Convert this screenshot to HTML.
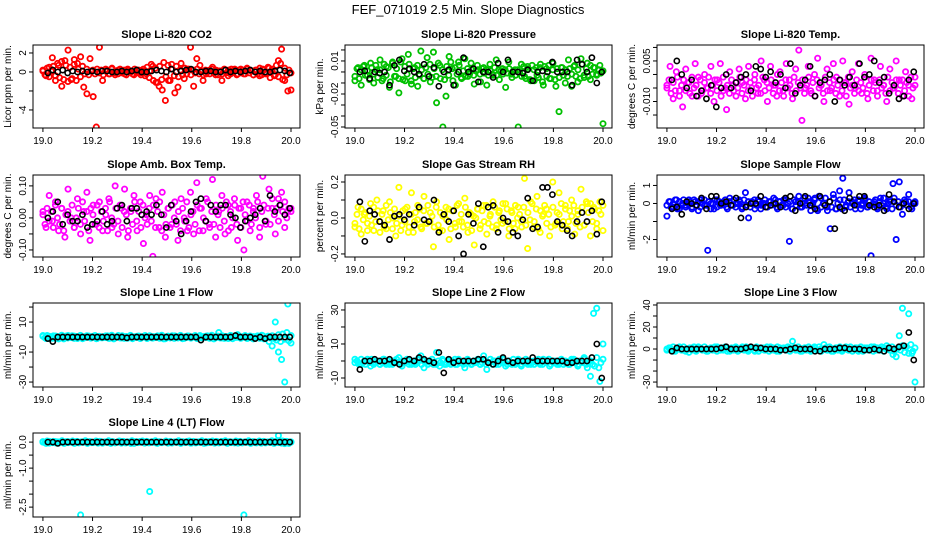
<!DOCTYPE html>
<html><head><meta charset="utf-8"><style>
html,body{margin:0;padding:0;background:#fff;}
svg{display:block;font-family:"Liberation Sans",Arial,sans-serif;}
</style></head><body>
<svg id="chart" width="936" height="540" viewBox="0 0 936 540" xmlns="http://www.w3.org/2000/svg">
<rect width="936" height="540" fill="#fff"/>
<text x="468" y="14" text-anchor="middle" font-size="13">FEF_071019  2.5 Min. Slope Diagnostics</text>
</svg>
<script>
// ---- data ----
const xTickValues = [19.0, 19.2, 19.4, 19.6, 19.8, 20.0];
const xTickLabels = ["19.0", "19.2", "19.4", "19.6", "19.8", "20.0"];
const timeStart = 19.0, timeEnd = 20.0;

const panelTitles = ["Slope Li-820 CO2","Slope Li-820 Pressure","Slope Li-820 Temp.","Slope Amb. Box Temp.","Slope Gas Stream RH","Slope Sample Flow","Slope Line 1 Flow","Slope Line 2 Flow","Slope Line 3 Flow","Slope Line 4 (LT) Flow"];
const yAxisTitles = ["Licor ppm per min.","kPa per min.","degrees C per min.","degrees C per min.","percent per min.","ml/min per min.","ml/min per min.","ml/min per min.","ml/min per min.","ml/min per min."];
const seriesColors = ["#ff0000","#00c000","#ff00ff","#ff00ff","#ffff00","#0000ff","#00ffff","#00ffff","#00ffff","#00ffff"];
const yDomains = [[-5.9,2.84],[-0.0509,0.0245],[-0.0198,0.0109],[-0.122,0.134],[-0.217,0.239],[-2.97,1.58],[-33.3,22.7],[-15.3,34.1],[-34.5,41.8],[-2.88,0.35]];
const yTicks = [[-4,-2,0,2],[-0.05,-0.04,-0.03,-0.02,-0.01,0,0.01,0.02],[-0.015,-0.01,-0.005,0,0.005,0.01],[-0.1,-0.05,0,0.05,0.1],[-0.2,-0.1,0,0.1,0.2],[-2,-1,0,1],[-30,-20,-10,0,10,20],[-10,0,10,20,30],[-30,-20,-10,0,10,20,30,40],[-2.5,-2,-1.5,-1,-0.5,0]];
const yTickLabels = [{"2":"2","0":"0","-4":"-4"},{"0.01":"0.01","-0.02":"-0.02","-0.05":"-0.05"},{"0.005":"0.005","-0.01":"-0.010"},{"0.1":"0.10","0":"0.00","-0.1":"-0.10"},{"0.2":"0.2","0":"0.0","-0.2":"-0.2"},{"1":"1","0":"0","-2":"-2"},{"10":"10","-10":"-10","-30":"-30"},{"30":"30","10":"10","-10":"-10"},{"40":"40","20":"20","0":"0","-30":"-30"},{"0":"0.0","-1":"-1.0","-2.5":"-2.5"}];

const co2Color = [0.1,-0.4,0.5,1.5,-0.9,0.7,-1.5,1.2,2.3,-0.8,1.3,0.9,1.6,-1.6,-2.3,1.4,-2.6,-5.8,2.6,-0.9,0.3,-0.2,0.4,-0.3,0.2,0.1,-0.2,0.3,0.0,-0.3,0.2,-0.1,0.3,-0.2,0.1,0.6,-1.1,-1.5,-1.9,-3.0,-0.9,0.8,-2.2,-1.6,0.9,-0.7,0.3,2.6,-1.5,1.4,0.7,-0.9,-0.2,0.2,0.5,-0.3,0.1,-0.9,0.2,-0.4,0.3,0.2,-0.2,0.3,-0.2,0.4,0.2,-0.3,0.2,-0.4,0.3,-0.2,0.4,0.1,-0.3,1.2,2.4,-0.9,-2.0,-1.9];
const co2Band = [0.2,-0.3,0.4,-0.5,0.1,0.6,-0.4,0.9,-0.6,1.1,-0.8,0.7,-1.0,0.5,-0.7,0.8,-0.9,0.3,-0.5,0.6,-0.2,0.3,-0.3,0.1,0.2,-0.2,0.3,-0.1,0.2,-0.3,0.1,0.2,-0.2,0.3,-0.1,0.1,-0.2,0.3,-0.1,0.2,-0.3,0.2,0.1,-0.2,0.3,-0.1,0.2,-0.3,0.1,-0.4,0.5,-0.6,0.8,-0.9,0.4,-1.1,0.6,-0.8,1.0,-0.5,0.7,-0.9,0.3,-0.4,0.6,-0.5,0.2,-0.3,0.4,-0.2,0.3,-0.3,0.2,-0.1,0.3,-0.2,0.1,-0.3,0.2,0.1,-0.2,0.3,-0.1,0.2,-0.3,0.1,-0.2,0.3,-0.1,0.2,-0.2,0.1,0.3,-0.3,0.2,-0.1,0.2,-0.2,0.3,-0.1,0.1,-0.3,0.2,-0.2,0.4,-0.3,0.2,-0.1,0.5,-0.6,0.3,-0.4,0.7,-0.5,0.9,-0.8,0.4,-0.3,0.2,-0.1];
const co2Black = [-0.1,0.2,0.0,0.2,-0.1,0.1,0.0,0.1,0.0,0.1,0.0,0.1,0.1,0.0,0.0,0.1,0.0,0.1,0.2,0.0,0.0,0.1,0.2,0.1,0.0,0.3,0.0,0.1,0.2,0.3,0.0,0.0,0.1,0.1,0.0,0.0,0.2,0.0,0.1,0.0,0.1,0.2,0.0,0.1,0.0,0.0,0.1,0.2,0.1,-0.1];
const presColor = [-0.008,0.004,-0.012,0.006,-0.003,0.008,-0.01,0.002,0.011,-0.006,0.005,-0.014,0.009,-0.004,-0.019,0.012,-0.008,0.016,-0.011,0.004,-0.013,0.019,-0.006,0.013,-0.009,0.018,-0.028,0.006,-0.05,-0.022,0.014,0.003,-0.012,0.009,-0.006,0.012,-0.004,0.008,-0.011,0.006,-0.009,0.004,-0.012,0.007,-0.003,0.011,-0.007,0.003,-0.014,0.009,-0.005,0.002,-0.05,0.007,-0.004,0.005,-0.008,0.002,-0.003,0.004,-0.012,0.003,-0.006,0.002,-0.013,-0.036,0.004,-0.01,0.011,-0.013,0.006,-0.009,0.012,-0.003,0.008,-0.007,0.004,-0.002,0.006,-0.047];
const presBand = [-0.004,0.003,-0.006,0.002,0.005,-0.003,0.001,-0.007,0.004,-0.002,0.006,-0.005,0.002,-0.008,0.007,-0.003,0.004,-0.009,0.008,-0.004,0.003,-0.006,0.009,-0.007,0.005,-0.002,0.007,-0.008,0.003,-0.005,0.006,-0.003,0.002,-0.006,0.004,-0.002,0.007,-0.005,0.003,-0.004,0.008,-0.006,0.002,-0.007,0.005,-0.003,0.009,-0.008,0.004,-0.002,0.006,-0.005,0.001,-0.004,0.003,-0.002,0.002,-0.003,0.001,0.002,-0.002,0.003,-0.001,0.002,-0.003,0.001,-0.002,0.004,-0.003,0.002,0.001,-0.002,0.002,-0.001,0.003,-0.002,0.001,-0.003,0.002,0.000,-0.004,0.005,-0.006,0.003,-0.007,0.006,-0.008,0.004,-0.005,0.007,-0.009,0.005,-0.004,0.006,-0.006,0.008,-0.007,0.003,-0.005,0.004,-0.003,0.002,-0.004,0.003,-0.002,0.005,-0.004,0.002,-0.006,0.007,-0.005,0.003,-0.004,0.006,-0.002,0.004,-0.003,0.002,-0.001,0.001];
const presBlack = [0.0,0.001,-0.006,0.0,-0.001,0.0,-0.012,0.006,0.011,0.001,0.003,0.0,-0.002,0.007,-0.004,0.004,-0.013,0.0,0.002,-0.012,0.0,0.013,0.0,0.003,-0.009,0.0,0.0,-0.005,0.008,0.0,0.011,0.0,0.0,-0.001,0.002,-0.008,0.0,0.001,0.0,0.009,0.0,0.0,0.0,-0.012,0.011,0.007,0.0,0.013,-0.01,0.0];
const tempColor = [-0.004,0.003,-0.009,0.001,-0.006,-0.012,0.002,-0.003,-0.008,0.004,-0.001,-0.007,0.0,-0.005,0.003,-0.01,-0.002,0.004,-0.006,-0.013,0.001,-0.004,-0.008,0.002,-0.003,-0.009,0.003,-0.005,0.0,-0.007,0.005,-0.002,-0.01,0.003,-0.004,-0.008,0.001,-0.006,0.004,-0.002,-0.009,0.002,0.009,-0.017,-0.005,0.003,-0.007,0.0,0.006,-0.004,-0.01,0.002,-0.006,0.004,-0.001,-0.008,0.005,-0.003,-0.011,0.001,-0.005,0.004,-0.007,0.0,-0.009,0.006,-0.002,-0.006,0.003,-0.004,-0.01,0.002,-0.005,0.005,-0.002,-0.008,0.001,-0.004,-0.009,-0.001];
const tempBand = [-0.005,-0.002,-0.007,-0.003,-0.006,-0.001,-0.008,-0.004,-0.002,-0.006,-0.003,-0.007,-0.001,-0.005,-0.004,-0.008,-0.002,-0.006,-0.003,-0.005,-0.001,-0.007,-0.004,-0.002,-0.006,-0.003,-0.008,-0.001,-0.005,-0.004,-0.007,-0.002,-0.006,-0.003,-0.005,-0.001,-0.007,-0.004,-0.002,-0.006,-0.003,-0.008,-0.002,-0.005,-0.004,-0.007,-0.001,-0.006,-0.003,-0.005,-0.002,-0.007,-0.004,0.000,-0.006,-0.003,-0.008,-0.002,-0.005,-0.004,-0.007,-0.001,-0.006,-0.003,-0.005,-0.002,-0.007,-0.004,-0.001,-0.006,-0.003,-0.008,-0.002,-0.005,-0.004,-0.007,-0.001,-0.006,-0.003,-0.005,-0.002,-0.007,-0.004,-0.002,-0.006,-0.003,-0.008,-0.001,-0.005,-0.004,-0.007,-0.002,-0.006,-0.003,-0.005,-0.001,-0.007,-0.004,-0.002,-0.006,-0.003,-0.008,-0.002,-0.005,-0.004,-0.007,-0.001,-0.006,-0.003,-0.005,-0.002,-0.007,-0.004,-0.002,-0.006,-0.003,-0.008,-0.001,-0.005,-0.004];
const tempBlack = [-0.002,0.005,0.0,-0.005,-0.002,-0.008,-0.006,-0.009,-0.004,-0.012,-0.005,0.0,-0.005,-0.003,-0.001,0.0,-0.006,0.003,0.002,-0.001,0.001,-0.003,0.0,-0.005,0.004,-0.007,-0.004,-0.002,0.003,-0.008,-0.003,-0.002,0.0,-0.01,-0.002,-0.004,-0.001,-0.004,0.004,-0.001,0.0,0.005,-0.003,-0.001,-0.007,-0.004,-0.009,-0.008,-0.002,0.001];
const ambColor = [0.02,-0.03,0.07,-0.01,0.05,-0.04,0.03,-0.06,0.09,0.0,-0.03,0.06,-0.05,0.02,0.08,-0.07,0.04,-0.02,0.05,-0.04,0.01,0.06,-0.03,0.1,-0.05,0.03,0.09,-0.06,0.02,0.07,-0.04,0.05,-0.08,0.01,0.07,-0.12,0.06,-0.03,0.08,-0.06,0.03,-0.02,0.05,-0.07,0.06,0.0,-0.04,0.08,-0.05,0.11,0.03,-0.04,0.06,-0.02,0.12,-0.06,0.02,0.07,-0.05,0.04,-0.03,0.06,-0.07,0.03,-0.1,0.05,-0.04,0.02,0.07,-0.06,0.13,-0.02,0.09,0.03,-0.05,0.06,0.08,-0.03,0.02,0.03];
const ambBand = [0.01,-0.02,0.03,-0.01,0.02,-0.03,0.04,0.0,-0.02,0.03,-0.04,0.01,0.02,-0.01,0.04,-0.03,0.0,0.03,-0.02,0.05,-0.01,0.02,-0.04,0.03,0.01,-0.02,0.04,-0.03,0.02,-0.01,0.03,-0.04,0.05,0.0,-0.02,0.03,-0.01,0.04,-0.03,0.02,0.01,-0.04,0.03,-0.02,0.05,-0.01,0.02,-0.03,0.04,0.0,-0.02,0.03,-0.01,0.04,-0.03,0.02,0.05,-0.04,0.01,-0.02,0.03,-0.03,0.04,0.0,-0.02,0.02,-0.04,0.03,-0.01,0.05,-0.03,0.01,0.02,-0.02,0.04,-0.04,0.03,0.0,-0.01,0.05,-0.03,0.02,-0.02,0.04,0.01,-0.03,0.03,-0.01,0.05,-0.04,0.02,0.0,0.04,-0.02,0.03,-0.03,0.05,0.01,-0.01,0.04,-0.02,0.03,0.0,0.05,-0.03,0.02,0.04,-0.01,0.03,-0.02,0.06,0.01,0.03,-0.01,0.04,0.02,0.05,0.0,0.03,0.02];
const ambBlack = [0.0,0.02,0.05,-0.02,0.01,-0.01,-0.01,0.01,-0.03,-0.02,-0.01,0.02,-0.02,-0.01,0.03,0.04,-0.01,0.03,0.03,0.01,0.02,0.01,0.04,0.01,-0.03,0.04,-0.01,-0.05,-0.01,0.02,0.05,0.06,-0.01,0.04,0.02,0.04,0.04,0.01,0.0,-0.03,-0.01,0.0,0.01,0.03,-0.01,0.07,0.02,0.04,0.01,0.03];
const rhColor = [-0.05,0.06,-0.09,0.02,-0.03,0.08,-0.07,0.1,-0.02,0.04,-0.06,0.09,0.0,-0.1,0.17,-0.04,0.05,-0.08,0.14,-0.02,0.07,-0.05,0.12,-0.03,0.03,-0.16,0.09,-0.07,0.01,0.06,-0.12,0.04,-0.05,0.08,-0.02,0.11,-0.08,0.02,-0.15,0.05,-0.04,0.07,-0.09,0.01,0.09,-0.06,0.04,-0.03,0.08,-0.1,0.03,-0.06,0.06,-0.02,0.22,-0.17,0.09,-0.05,0.12,-0.08,0.02,0.05,-0.1,0.2,-0.03,0.14,-0.06,0.07,-0.02,0.1,-0.09,0.04,0.16,-0.04,0.08,-0.1,0.06,-0.03,0.09,-0.07];
const rhBand = [-0.03,0.02,-0.06,0.05,-0.01,0.03,-0.07,0.01,-0.04,0.06,-0.02,0.04,-0.08,0.02,-0.05,0.07,-0.01,0.03,-0.06,0.05,-0.03,0.01,-0.07,0.04,-0.02,0.06,-0.05,0.02,-0.08,0.03,-0.01,0.05,-0.06,0.04,-0.03,0.07,-0.02,0.01,-0.05,0.06,-0.04,0.03,-0.07,0.02,-0.01,0.05,-0.06,0.04,-0.03,0.07,-0.02,0.02,-0.05,0.06,-0.04,0.03,-0.07,0.01,0.0,0.05,-0.06,0.04,-0.02,0.07,-0.03,0.02,-0.05,0.06,-0.04,0.03,-0.01,0.08,-0.02,0.05,-0.06,0.04,-0.03,0.07,0.0,0.02,-0.05,0.06,-0.04,0.03,-0.01,0.08,-0.02,0.05,-0.06,0.04,0.01,0.07,-0.03,0.02,-0.05,0.06,-0.04,0.03,0.02,0.08,-0.02,0.05,-0.06,0.04,0.01,0.07,-0.03,0.02,-0.05,0.06,-0.04,0.09,0.03,0.08,-0.02,0.05,-0.06,0.04,0.02,0.07];
const rhBlack = [0.09,-0.13,0.04,0.02,-0.02,-0.04,-0.12,0.01,0.02,-0.01,0.02,-0.04,0.06,-0.01,-0.02,0.1,-0.08,0.02,-0.02,0.04,-0.1,-0.2,0.02,-0.03,0.08,-0.16,0.06,0.07,-0.08,0.0,-0.02,-0.08,-0.1,-0.01,0.11,-0.06,-0.05,0.17,0.17,0.13,-0.02,-0.04,-0.07,-0.1,-0.02,0.03,-0.02,0.04,-0.09,0.09];
const sampleColor = [-0.7,0.1,-0.2,0.2,-0.3,0.0,-0.1,0.2,-0.2,0.1,-0.4,0.2,-0.1,-2.6,0.0,-0.3,0.2,-0.1,0.1,-0.2,0.3,-0.1,0.0,0.2,-0.2,0.6,-0.8,0.1,-0.3,0.2,-0.1,0.0,-0.2,0.1,0.3,-0.2,0.1,-0.1,0.2,-2.1,-0.3,0.1,0.4,-0.2,0.0,0.3,-0.1,0.2,-0.4,0.3,0.0,-0.2,-1.4,0.5,-0.3,0.7,1.4,-0.2,0.6,0.1,-0.3,0.2,-0.1,0.3,-0.2,-2.9,0.1,-0.2,0.3,0.0,-0.3,0.2,1.1,-2.0,1.2,-0.6,0.1,0.5,-0.3,0.0];
const sampleBand = [-0.1,0.1,-0.2,0.0,0.2,-0.3,0.1,-0.1,0.2,-0.2,0.0,0.1,-0.3,0.2,-0.1,0.1,-0.2,0.0,0.2,-0.1,0.1,-0.3,0.0,0.2,-0.2,0.1,-0.1,0.0,0.2,-0.3,0.1,-0.1,0.2,-0.2,0.0,0.1,-0.3,0.2,-0.1,0.1,-0.2,0.0,0.2,-0.1,0.1,-0.3,0.0,0.2,-0.2,0.1,-0.1,0.0,0.2,-0.3,0.1,-0.1,0.2,-0.2,0.0,0.1,-0.3,0.2,-0.1,0.1,-0.2,0.0,0.3,-0.1,0.1,-0.4,0.0,0.3,-0.3,0.4,-0.2,0.0,0.3,-0.4,0.1,-0.2,0.3,-0.3,0.0,0.2,-0.3,0.2,-0.1,0.1,-0.2,0.0,0.2,-0.1,0.1,-0.3,0.0,0.2,-0.2,0.1,-0.1,0.0,0.2,-0.3,0.1,-0.1,0.3,-0.2,0.0,0.1,-0.3,0.3,-0.1,0.1,-0.2,0.0,0.2,-0.1,0.1,-0.2,0.0,0.1];
const sampleBlack = [-0.3,-0.2,-0.6,0.1,0.0,-0.1,0.3,-0.3,0.4,0.4,0.0,0.1,-0.1,0.3,-0.8,-0.2,0.0,0.0,0.4,-0.2,-0.1,0.0,-0.2,0.3,0.4,-0.4,0.0,0.4,-0.1,-0.3,0.4,-0.1,0.1,-1.4,-0.2,-0.4,0.3,-0.1,0.4,0.4,-0.1,-0.2,-0.1,-0.4,0.5,0.1,-0.2,0.0,-0.3,0.0];
const line1Color = [1,-1,0.5,-0.8,0.7,-1.2,0.3,-0.6,1,-0.4,0.6,-1,0.2,-0.7,0.9,-0.3,0.5,-1.1,0.4,-0.5,0.8,-0.9,0.3,-0.4,1,-0.6,0.2,-0.8,0.7,-0.3,0.5,-1,0.4,-0.5,0.9,-0.7,0.3,-0.4,0.6,-1.1,0.5,-0.3,0.8,-0.6,0.2,-0.9,0.7,-0.4,0.4,-0.8,1,-0.2,0.6,-0.7,0.3,-0.5,3,-0.6,0.4,-1,0.8,-0.3,1.6,-0.8,0.5,-0.4,0.7,-1.2,0.3,-0.5,0.9,-0.7,-3,-6,10,-10,-15,-30,22,-4];
const line1Band = [0.5,-0.5,1,-1,0,0.8,-0.8,0.3,-0.3,1.2,-1.2,0.6,-0.6,0,0.9,-0.9,0.4,-0.4,1.1,-1.1,0.2,-0.2,0.7,-0.7,0,1,-1,0.5,-0.5,0.3,-0.3,0.8,-0.8,1.2,-1.2,0,0.6,-0.6,0.9,-0.9,0.4,-0.4,1.1,-1.1,0.2,-0.2,0.7,-0.7,0,1,-1,0.5,-0.5,0.3,-0.3,0.8,-0.8,1.2,-1.2,0,0.6,-0.6,0.9,-0.9,0.4,-0.4,1.1,-1.1,0.2,-0.2,0.7,-0.7,0,1,-1,0.5,-0.5,0.3,-0.3,0.8,-0.8,1.2,-1.2,0,0.6,-0.6,0.9,-0.9,0.4,-0.4,1.1,-1.1,0.2,-0.2,0.7,-0.7,0,1,-1,0.5,-0.5,0.3,-0.3,0.8,-0.8,1.2,-1.2,0,0.6,-0.6,0.9,-0.9,-2,1.5,-3,2,-1.5,3,-2.5,1];
const line1Black = [-1,-3,0,0,0,0,0,0,0,0,0,0,0,0,0,0,-0.5,0,0,0,0,0,0,0,0,0,0,0,0,0,0,-2,0,0,0,0,0,0,1,0,0,0,-1,0,-1,0,0,0,0,0];
const line2Color = [1,-1,-2,0,1,-3,-1,0,-2,1,-1,-2,0,-1,2,-3,-1,0,-2,-1,1,3,-4,0,-1,-2,5,-3,0,-2,-1,0,-2,1,-1,-4,0,-2,-1,0,-2,3,-5,-1,0,-2,1,-1,-3,0,-2,-1,1,-3,0,-1,-2,0,-1,-2,1,-1,-3,0,-1,-2,0,-1,-2,1,-1,-3,0,2,-4,-9,28,31,-12,10];
const line2Band = [-1,0,-2,1,-1,-2,0,-1,1,-2,-1,0,-2,-1,1,-2,0,-1,-2,0,1,-1,-2,0,-1,1,-2,-1,0,-2,-1,1,-2,0,-1,-2,0,1,-1,-2,0,-1,1,-2,-1,0,-2,-1,1,-2,0,-1,-2,0,1,-1,-2,0,-1,1,-2,-1,0,-2,-1,1,-2,0,-1,-2,0,1,-1,-2,0,-1,1,-2,-1,0,-2,-1,1,-2,0,-1,-2,0,1,-1,-2,0,-1,1,-2,-1,0,-2,-1,1,-2,0,-1,-2,0,1,-1,-2,0,-1,1,-2,-1,0,-2,-3,2,-4,-1,1];
const line2Black = [-5,0,0,1,0,0,1,-1,-2,0,1,0,2,1,0,-1,5,-7,1,-1,0,0,0,0,1,1,-1,-2,0,2,0,-1,0,0,0,2,0,0,0,0,0,0,-1,-1,0,0,0,2,10,-10];
const line3Color = [-1,1,-2,0,2,-1,0,-3,1,-1,2,0,-1,-2,1,0,2,-1,0,1,-2,0,1,-1,2,0,-1,1,-2,0,1,-1,0,2,-1,-2,1,0,-1,1,7,-1,0,-2,1,0,-1,2,-1,0,4,-1,0,-2,1,0,-1,2,-1,0,1,-2,0,1,-1,0,2,-1,0,1,3,-1,-5,-7,12,37,2,32,-4,-30];
const line3Band = [0,1,-1,2,-2,0,1,-1,2,-2,0,1,-1,2,-2,0,1,-1,2,-2,0,1,-1,2,-2,0,1,-1,2,-2,0,1,-1,2,-2,0,1,-1,2,-2,0,1,-1,2,-2,0,1,-1,2,-2,0,1,-1,2,-2,0,1,-1,2,-2,0,1,-1,2,-2,0,1,-1,2,-2,0,1,-1,2,-2,0,1,-1,2,-2,0,1,-1,2,-2,0,1,-1,2,-2,0,1,-1,2,-2,0,1,-1,2,-2,0,1,-1,2,-2,0,1,-1,2,-2,0,1,-1,3,-3,2,-4,4,-2,1];
const line3Black = [-2,1,0,0,0,0,0,0,0,0,1,2,0,0,0,1,2,1,1,0,0,0,-1,-1,0,1,0,0,0,-2,-2,0,0,0,1,1,0,0,0,-1,-1,0,-1,-2,1,0,2,3,15,-10];
const line4Color = [0,-0.05,0.03,-0.02,0.02,-0.04,0.01,-0.03,0.02,0,-0.05,0.02,-2.8,0.01,-0.03,0.02,-0.02,0,0.03,-0.04,0.01,-0.02,0.02,-0.03,0,0.02,-0.02,0.01,-0.05,0.02,-0.01,0.03,-0.02,0,-1.9,0.02,-0.03,0.01,-0.02,0.02,0,-0.03,0.01,0.02,-0.02,0,0.03,-0.04,0.01,-0.02,0.02,0,-0.03,0.02,-0.01,0.01,-0.02,0.03,0,-0.02,0.01,-0.03,0.02,0,-2.8,0.01,-0.02,0.02,-0.03,0,0.02,-0.01,0.01,-0.02,0.02,0.25,-0.04,0.02,-0.01,0];
const line4Band = [0.02,-0.02,0.04,-0.04,0,0.03,-0.03,0.01,-0.01,0.05,-0.05,0.02,-0.02,0,0.04,-0.04,0.03,-0.03,0.01,-0.01,0.05,-0.05,0.02,-0.02,0,0.04,-0.04,0.03,-0.03,0.01,-0.01,0.05,-0.05,0.02,-0.02,0,0.04,-0.04,0.03,-0.03,0.01,-0.01,0.05,-0.05,0.02,-0.02,0,0.04,-0.04,0.03,-0.03,0.01,-0.01,0.05,-0.05,0.02,-0.02,0,0.04,-0.04,0.03,-0.03,0.01,-0.01,0.05,-0.05,0.02,-0.02,0,0.04,-0.04,0.03,-0.03,0.01,-0.01,0.05,-0.05,0.02,-0.02,0,0.04,-0.04,0.03,-0.03,0.01,-0.01,0.05,-0.05,0.02,-0.02,0,0.04,-0.04,0.03,-0.03,0.01,-0.01,0.05,-0.05,0.02,-0.02,0,0.04,-0.04,0.03,-0.03,0.01,-0.01,0.05,-0.05,0.02,-0.02,0,0.04,-0.06,0.03,-0.05,0.01];
const line4Black = [0,0,-0.05,0,0,0,0,0,0,0,0,0,0,0,0,0,0,0,0,0,0,0,0,0,0,0,0,0,0,0,0,0,0,0,0,0,0,0,0,0,0,0,0,0,0,0,0,0,0,0];

const colorSeries = [co2Color,presColor,tempColor,ambColor,rhColor,sampleColor,line1Color,line2Color,line3Color,line4Color];
const bandSeries = [co2Band,presBand,tempBand,ambBand,rhBand,sampleBand,line1Band,line2Band,line3Band,line4Band];
const blackSeries = [co2Black,presBlack,tempBlack,ambBlack,rhBlack,sampleBlack,line1Black,line2Black,line3Black,line4Black];

// ---- layout ----
const svg = document.getElementById('chart');
const NS = 'http://www.w3.org/2000/svg';
const colW = 312, rowTops = [45, 175, 303, 433], boxH = [83, 82, 84, 84];
function mk(tag, attrs, parent) {
  const e = document.createElementNS(NS, tag);
  for (const k in attrs) e.setAttribute(k, attrs[k]);
  parent.appendChild(e);
  return e;
}
function slug(s) { return s.toLowerCase().replace(/[^a-z0-9]+/g, '-').replace(/^-|-$/g, ''); }

panelTitles.forEach((title, p) => {
  const col = p % 3, row = Math.floor(p / 3);
  const L = 33 + col * colW, R = 300 + col * colW, T = rowTops[row], B = T + boxH[row];
  const xd0 = 18.96, xd1 = 20.0363;
  const xs = v => L + (v - xd0) / (xd1 - xd0) * (R - L);
  const [y0, y1] = yDomains[p];
  const ys = v => B - (v - y0) / (y1 - y0) * (B - T);
  const g = mk('g', {}, svg);
  
  

  const tt = mk('text', {x: (L + R) / 2, y: T - 7, 'text-anchor': 'middle', 'font-size': 11, 'font-weight': 'bold'}, g);
  tt.textContent = title;
  
  

  const yt = mk('text', {x: 0, y: 0, 'text-anchor': 'middle', 'font-size': 10, transform: `translate(${L - 22},${(T + B) / 2}) rotate(-90)`}, g);
  yt.textContent = yAxisTitles[p];
  
  

  xTickValues.forEach((v, i) => {
    const x = xs(v);
    const t = mk('line', {x1: x, x2: x, y1: B, y2: B + 4, stroke: '#000', 'stroke-width': 1}, g);
    
    
    const lb = mk('text', {x: x, y: B + 16, 'text-anchor': 'middle', 'font-size': 10}, g);
    lb.textContent = xTickLabels[i];
    
    
  });
  yTicks[p].forEach(v => {
    const y = ys(v);
    const t = mk('line', {x1: L - 4, x2: L, y1: y, y2: y, stroke: '#000', 'stroke-width': 1}, g);
    
    
    const key = String(v);
    if (yTickLabels[p][key] !== undefined) {
      const lb = mk('text', {x: 0, y: 0, 'text-anchor': 'middle', 'font-size': 10, transform: `translate(${L - 7},${y}) rotate(-90)`}, g);
      lb.textContent = yTickLabels[p][key];
      
      
    }
  });

  const clip = mk('clipPath', {id: 'clip' + p}, g);
  mk('rect', {x: L, y: T, width: R - L, height: B - T}, clip);
  const pg = mk('g', {'clip-path': `url(#clip${p})`}, g);
  
  

  const bd = bandSeries[p];
  bd.forEach((v, i) => {
    const t = timeStart + (timeEnd - timeStart) * i / (bd.length - 1);
    const c = mk('circle', {cx: xs(t), cy: ys(v), r: 2.6, fill: 'none', stroke: seriesColors[p], 'stroke-width': 1.8}, pg);
    
    
  });
  const cs = colorSeries[p];
  cs.forEach((v, i) => {
    const t = timeStart + (timeEnd - timeStart) * i / (cs.length - 1);
    const c = mk('circle', {cx: xs(t), cy: ys(v), r: 2.6, fill: 'none', stroke: seriesColors[p], 'stroke-width': 1.8}, pg);
    
    
  });
  const bs = blackSeries[p];
  bs.forEach((v, i) => {
    const t = 19.02 + (19.995 - 19.02) * i / (bs.length - 1);
    const c = mk('circle', {cx: xs(t), cy: ys(v), r: 2.6, fill: 'none', stroke: '#000', 'stroke-width': 1.6}, pg);
    
    
  });

  const box = mk('rect', {x: L, y: T, width: R - L, height: B - T, fill: 'none', stroke: '#000', 'stroke-width': 1}, g);
  
  
});
</script>
</body></html>
